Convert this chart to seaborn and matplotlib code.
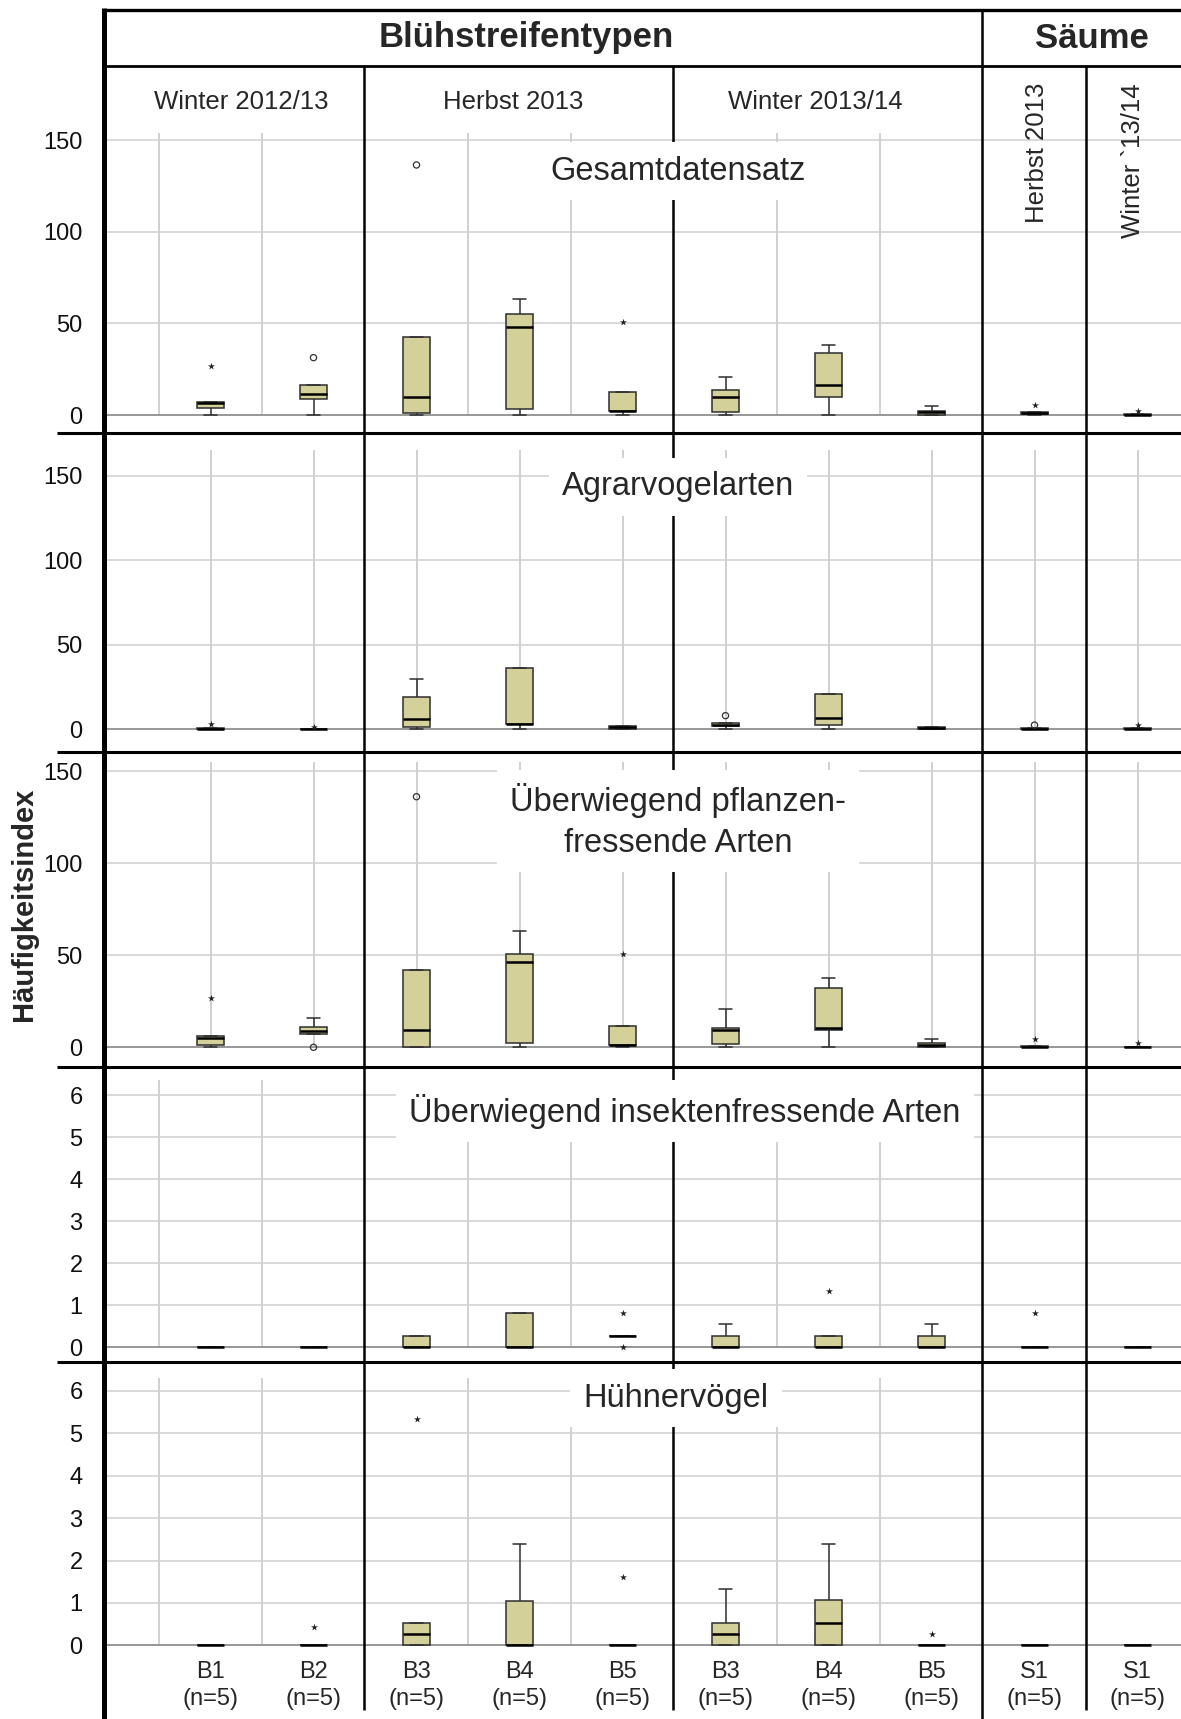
import numpy as np
import pandas as pd
import matplotlib
matplotlib.use("Agg")
import matplotlib.pyplot as plt
import seaborn as sns
from matplotlib.lines import Line2D

# ---------------- data ----------------
groups = ["W12_B1", "W12_B2", "H13_B3", "H13_B4", "H13_B5",
          "W13_B3", "W13_B4", "W13_B5", "H13_S1", "W13_S1"]
tick_labels = ["B1\n(n=5)", "B2\n(n=5)", "B3\n(n=5)", "B4\n(n=5)", "B5\n(n=5)",
               "B3\n(n=5)", "B4\n(n=5)", "B5\n(n=5)", "S1\n(n=5)", "S1\n(n=5)"]
season_labels = ["Winter 2012/13", "Herbst 2013", "Winter 2013/14"]
saum_labels = ["Herbst 2013", "Winter `13/14"]
panel_titles = ["Gesamtdatensatz", "Agrarvogelarten",
                "Überwiegend pflanzen-\nfressende Arten",
                "Überwiegend insektenfressende Arten", "Hühnervögel"]

gesamt = [[0, 4, 6.5, 7, 27], [0, 8.7, 11.3, 16.4, 31.3], [0, 1.3, 10, 42.4, 136.4],
          [0, 3.1, 48.2, 55.1, 63.1], [0, 2.0, 2.3, 12.7, 51], [0, 1.5, 10, 13.6, 20.9],
          [0, 9.6, 16.4, 33.6, 38.3], [0, 0.2, 1.5, 2.3, 4.9], [0, 0.5, 1.0, 1.5, 5.5],
          [0, 0, 0.2, 0.5, 2.3]]
agrar = [[0, 0, 0, 0.3, 3.0], [0, 0, 0, 0.2, 1.0], [0, 1.0, 5.7, 18.8, 29.4],
         [0, 3.0, 3.0, 36.3, 36.3], [0, 0, 1.0, 1.8, 1.8], [0, 1.6, 2.4, 3.8, 7.9],
         [0, 2.4, 6.3, 20.5, 20.5], [0, 0, 0.5, 1.0, 1.0], [0, 0, 0.2, 0.7, 2.3],
         [0, 0, 0, 0.5, 2.6]]
pflanzen = [[0, 1.25, 5.2, 6.3, 26.6], [0, 7.1, 8.9, 11.2, 16.1], [0, 0.3, 9.2, 42.0, 136.2],
            [0, 2.5, 46.2, 50.9, 63.2], [0, 1.25, 1.5, 11.7, 50.7], [0, 1.6, 9.4, 10.6, 20.6],
            [0, 9.2, 10.7, 32.1, 37.8], [0, 0, 1.25, 2.5, 4.7], [0, 0, 0.3, 0.6, 4.5],
            [0, 0, 0.2, 0.4, 2.2]]
insekten = [[0, 0, 0, 0, 0], [0, 0, 0, 0, 0], [0, 0, 0, 0.27, 0.27],
            [0, 0, 0, 0.8, 0.8], [0, 0.27, 0.27, 0.27, 0.8], [0, 0, 0, 0.27, 0.54],
            [0, 0, 0, 0.27, 1.33], [0, 0, 0, 0.27, 0.54], [0, 0, 0, 0, 0.8],
            [0, 0, 0, 0, 0]]
huehner = [[0, 0, 0, 0, 0], [0, 0, 0, 0, 0.44], [0, 0, 0.27, 0.53, 5.33],
           [0, 0, 0, 1.05, 2.39], [0, 0, 0, 0, 1.6], [0, 0, 0.27, 0.53, 1.32],
           [0, 0, 0.53, 1.07, 2.39], [0, 0, 0, 0, 0.27], [0, 0, 0, 0, 0],
           [0, 0, 0, 0, 0]]
big_ticks = [0, 50, 100, 150]
small_ticks = [0, 1, 2, 3, 4, 5, 6]

# ---------------- style ----------------
sns.set_style("white")
FONT = ["Liberation Sans", "DejaVu Sans"]
plt.rcParams["font.family"] = FONT

W, H = 1181, 1719
BOX = "#d4d09a"
EDGE = "#2e2e2e"
GRID = "#d0d0d0"

fig = plt.figure(figsize=(W / 100, H / 100), dpi=100)
fig.patch.set_facecolor("white")


def fx(px):
    return px / W


def fy(py):
    return 1 - py / H


XL = 103.5
x0_px, dx_px = 210.5, 103.0
xlim = ((XL - x0_px) / dx_px, (W - x0_px) / dx_px)

between = [-0.5, 0.5, 2.5, 3.5, 5.5, 6.5]
centers = list(range(10))

panels = [
    dict(data=gesamt, top=66, bottom=433, zero=415.0, unit=1.833, ticks=big_ticks,
         vl=between, vtop=154, title=(678, 171)),
    dict(data=agrar, top=433, bottom=752, zero=729.0, unit=1.69, ticks=big_ticks,
         vl=centers, vtop=165, title=(678, 487)),
    dict(data=pflanzen, top=752, bottom=1067, zero=1047.3, unit=1.84, ticks=big_ticks,
         vl=centers, vtop=155, title=(678, 821)),
    dict(data=insekten, top=1067, bottom=1362, zero=1347.0, unit=42.0, ticks=small_ticks,
         vl=between, vtop=6.36, title=(685, 1111)),
    dict(data=huehner, top=1362, bottom=1650, zero=1645.3, unit=42.4, ticks=small_ticks,
         vl=between, vtop=6.3, title=(676, 1398)),
]

for k, p in enumerate(panels):
    ax = fig.add_axes([fx(XL), fy(p["bottom"]), fx(W) - fx(XL), (p["bottom"] - p["top"]) / H])
    ax.set_facecolor("white")
    vals = p["data"]
    df = pd.DataFrame({"group": np.repeat(groups, 5),
                       "value": np.concatenate([np.asarray(v, float) for v in vals])})
    sns.boxplot(data=df, x="group", y="value", order=groups, ax=ax,
                color=BOX, linecolor=EDGE, linewidth=1.1, width=0.27, saturation=1,
                showfliers=False, whis=1.5,
                medianprops=dict(color="black", linewidth=1.8), zorder=3)
    # outliers (circle) and extremes (star), SPSS style
    for i, v in enumerate(vals):
        v = np.asarray(v, float)
        q1, q3 = np.percentile(v, [25, 75])
        iqr = q3 - q1
        out = v[(v > q3 + 1.5 * iqr) | (v < q1 - 1.5 * iqr)]
        ext = out[(out > q3 + 3 * iqr) | (out < q1 - 3 * iqr)]
        mild = out[(out <= q3 + 3 * iqr) & (out >= q1 - 3 * iqr)]
        if len(mild):
            ax.scatter(np.full(len(mild), i), mild, marker="o", s=20, facecolors="none",
                       edgecolors="#333333", linewidths=0.9, zorder=4)
        if len(ext):
            ax.scatter(np.full(len(ext), i), ext, marker="*", s=28, color="#222222",
                       linewidths=0, zorder=4)

    ylo = (p["zero"] - p["bottom"]) / p["unit"]
    yhi = (p["zero"] - p["top"]) / p["unit"]
    ax.set_ylim(ylo, yhi)
    ax.set_xlim(*xlim)
    ax.set_yticks(p["ticks"])
    ax.set_yticklabels([str(t) for t in p["ticks"]])
    ax.yaxis.grid(True, color=GRID, linewidth=1.1)
    ax.xaxis.grid(False)
    ax.set_axisbelow(True)
    ax.vlines(p["vl"], 0, p["vtop"], color="#c4c4c4", linewidth=1.1, zorder=0.5)
    ax.axhline(0, color="#8c8c8c", linewidth=1.2, zorder=1)
    for s in ax.spines.values():
        s.set_visible(False)
    ax.tick_params(axis="y", length=7, width=1, color="#b8b8b8", labelsize=17, pad=8,
                   labelcolor="#111111")
    ax.set_xlabel("")
    ax.set_ylabel("")
    ax.set_xticks(range(10))
    if k == len(panels) - 1:
        ax.set_xticklabels(tick_labels, fontsize=17, linespacing=1.27)
        ax.tick_params(axis="x", length=0, pad=8)
    else:
        ax.tick_params(axis="x", length=0, labelbottom=False)
    # panel title with white box
    tx, ty = p["title"]
    fig.text(fx(tx), fy(ty), panel_titles[k], ha="center", va="center", fontsize=23.5,
             multialignment="center", linespacing=1.4, zorder=10,
             bbox=dict(facecolor="white", edgecolor="none", boxstyle="square,pad=0.4"))


def fline(xs, ys, lw):
    fig.add_artist(Line2D([fx(x) for x in xs], [fy(y) for y in ys], color="black",
                          linewidth=lw, solid_capstyle="butt", zorder=5))


# table frame
fline([XL, W], [10, 10], 2.4)
fline([XL, W], [66, 66], 2.0)
fline([XL, XL], [8.5, H], 3.6)
fline([982, 982], [10, H], 1.8)
for xs in (364, 673, 1086):
    fline([xs, xs], [66, 1710], 1.8)
for ys in (433, 752, 1067, 1362):
    fline([57, W], [ys, ys], 2.2)

# headers
fig.text(fx(526), fy(38), "Blühstreifentypen", ha="center", va="center", fontsize=25,
         fontweight="bold", zorder=10)
fig.text(fx(1092), fy(38), "Säume", ha="center", va="center", fontsize=25,
         fontweight="bold", zorder=10)
for lab, (x, y) in zip(season_labels, [(241, 102), (513, 102), (815, 102)]):
    fig.text(fx(x), fy(y), lab, ha="center", va="center", fontsize=18.5, zorder=10)
for lab, (x, y) in zip(saum_labels, [(1037, 153), (1133, 161)]):
    fig.text(fx(x), fy(y), lab, ha="center", va="center", fontsize=18.5, rotation=90,
             zorder=10)

fig.text(fx(24), fy(904), "Häufigkeitsindex", rotation=90, ha="center", va="center",
         fontsize=21, fontweight="bold")

fig.savefig("out.png", dpi=100, facecolor="white")
